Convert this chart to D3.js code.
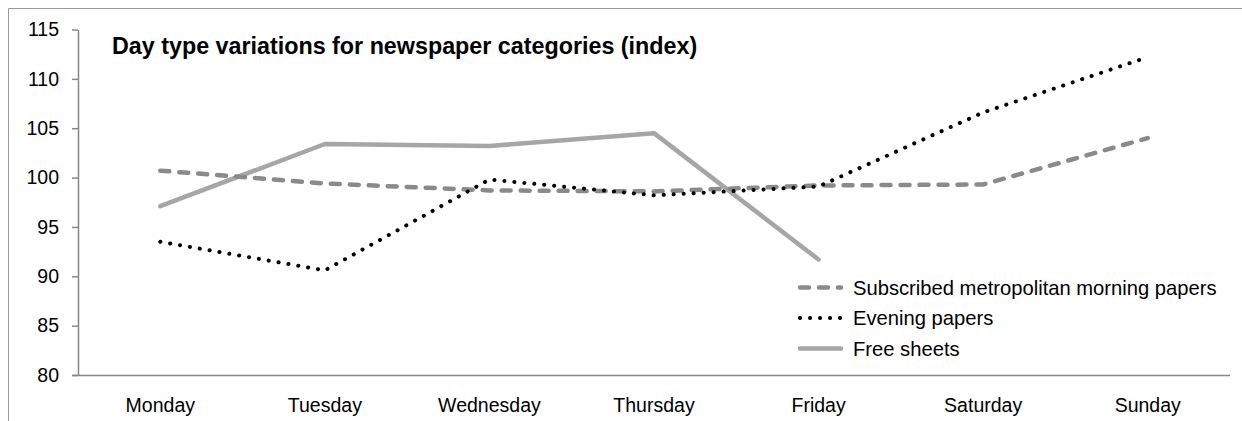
<!DOCTYPE html>
<html>
<head>
<meta charset="utf-8">
<script src="https://cdn.jsdelivr.net/npm/d3@7/dist/d3.min.js"></script>
<style>
  html, body { margin: 0; padding: 0; background: #fff; }
  svg { display: block; font-family: "Liberation Sans", Arial, sans-serif; }
</style>
</head>
<body>
<svg id="chart" width="1242" height="421"></svg>
<script>
// Day type index values per newspaper category
const days = ["Monday", "Tuesday", "Wednesday", "Thursday", "Friday", "Saturday", "Sunday"];
const morningPapers = [100.7, 99.4, 98.7, 98.6, 99.2, 99.3, 104.0];
const eveningPapers = [93.5, 90.6, 99.8, 98.2, 99.1, 106.6, 112.2];
const freeSheets = [97.1, 103.4, 103.2, 104.5, 91.7];
const yTicks = [80, 85, 90, 95, 100, 105, 110, 115];
const seriesNames = ["Subscribed metropolitan morning papers", "Evening papers", "Free sheets"];
const titleText = "Day type variations for newspaper categories (index)";

const svg = d3.select("#chart");
const axisColor = "#878787";

// outer frame (top and left edges)
svg.append("path")
  .attr("d", "M8.5,421 V8.5 H1242")
  .attr("fill", "none")
  .attr("stroke", "#9a9a9a")
  .attr("stroke-width", 1);

const plot = { left: 78, right: 1230, top: 29.5, bottom: 375 };

const x = d3.scaleBand().domain(days).range([plot.left, plot.right]);
const xc = d => x(d) + x.bandwidth() / 2;
const y = d3.scaleLinear().domain([80, 115]).range([plot.bottom, plot.top]);

// y axis
const yAxis = svg.append("g")
  .attr("transform", `translate(${plot.left},0)`)
  .call(d3.axisLeft(y).tickValues(yTicks).tickSize(6).tickPadding(13).tickSizeOuter(0));
yAxis.select(".domain").attr("stroke", axisColor).attr("stroke-width", 1.5);
yAxis.selectAll(".tick line").attr("stroke", axisColor).attr("stroke-width", 1.5);
yAxis.selectAll(".tick text").attr("fill", "#000").style("font-size", "19.5px");

// x axis
const xAxis = svg.append("g")
  .attr("transform", `translate(0,${plot.bottom})`)
  .call(d3.axisBottom(x).tickSize(0).tickPadding(23).tickSizeOuter(0));
xAxis.select(".domain")
  .attr("d", `M${plot.left - 6},0.5H${plot.right}`)
  .attr("stroke", axisColor).attr("stroke-width", 1.5);
xAxis.selectAll(".tick text").attr("fill", "#000").style("font-size", "19.5px");

// title
svg.append("text")
  .attr("x", 112).attr("y", 54)
  .attr("font-weight", "bold")
  .style("font-size", "23.3px")
  .attr("fill", "#000")
  .text(titleText);

const styles = [
  { color: "#8a8a8a", width: 4.5, dash: "9,10", cap: "round" },
  { color: "#000000", width: 4, dash: "0.1,9.9", cap: "round" },
  { color: "#a6a6a6", width: 4.5, dash: null, cap: "round" }
];
const seriesValues = [morningPapers, eveningPapers, freeSheets];

const line = d3.line().x(d => xc(d.day)).y(d => y(d.v));

// draw free sheets first so the dotted and dashed lines stay visible on top
[2, 0, 1].forEach(i => {
  const pts = seriesValues[i].map((v, j) => ({ day: days[j], v }));
  svg.append("path")
    .datum(pts)
    .attr("d", line)
    .attr("fill", "none")
    .attr("stroke", styles[i].color)
    .attr("stroke-width", styles[i].width)
    .attr("stroke-linecap", styles[i].cap)
    .attr("stroke-linejoin", "round")
    .attr("stroke-dasharray", styles[i].dash);
});

// legend
const legend = svg.append("g").attr("transform", "translate(798,287.5)");
seriesNames.forEach((name, i) => {
  const row = legend.append("g").attr("transform", `translate(0,${i * 30.5})`);
  row.append("line")
    .attr("x1", 2).attr("x2", 43).attr("y1", 0).attr("y2", 0)
    .attr("stroke", styles[i].color)
    .attr("stroke-width", styles[i].width)
    .attr("stroke-linecap", styles[i].cap)
    .attr("stroke-dasharray", styles[i].dash);
  row.append("text")
    .attr("x", 55).attr("y", 0).attr("dy", "0.35em")
    .style("font-size", "20.2px")
    .attr("fill", "#000")
    .text(name);
});
</script>
</body>
</html>
